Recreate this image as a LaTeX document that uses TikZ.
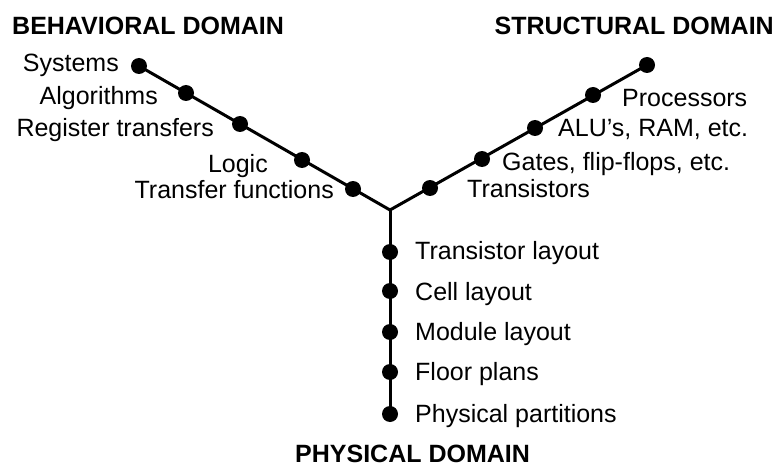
\documentclass[tikz,border=0pt]{standalone}
\usepackage{fontspec}
\setmainfont{Liberation Sans}
\begin{document}
\begin{tikzpicture}[x=1pt,y=-1pt,
  arm/.style={line width=3pt,line cap=round,line join=miter},
  dot/.style={circle,fill=black,inner sep=0pt,minimum size=16pt},
  lbl/.style={inner sep=0pt,font=\fontsize{25}{30}\selectfont},
  ttl/.style={inner sep=0pt,font=\fontsize{25}{30}\selectfont\bfseries}]
\useasboundingbox (0,0) rectangle (779,468);

% centre of the Y chart
\coordinate (c) at (390,210);

% behavioral axis
\node[dot] (b1) at (139,66) {};
\node[dot] (b2) at (186,93) {};
\node[dot] (b3) at (240,124) {};
\node[dot] (b4) at (302,160) {};
\node[dot] (b5) at (353,189) {};

% structural axis
\node[dot] (s1) at (647,65) {};
\node[dot] (s2) at (593,95) {};
\node[dot] (s3) at (535,128) {};
\node[dot] (s4) at (482,159) {};
\node[dot] (s5) at (430,188) {};

% physical axis
\node[dot] (p1) at (390,252) {};
\node[dot] (p2) at (390,291) {};
\node[dot] (p3) at (390,332) {};
\node[dot] (p4) at (390,372) {};
\node[dot] (p5) at (390,414) {};

\draw[arm] (c) -- (b1.center);
\draw[arm] (c) -- (s1.center);
\draw[arm] (c) -- (p5.center);

% domain titles
\node[ttl,anchor=base west] (tb) at (12,35) {BEHAVIORAL DOMAIN};
\node[ttl,anchor=base east] (ts) at (774,35) {STRUCTURAL DOMAIN};
\node[ttl,anchor=base west] (tp) at (295,462) {PHYSICAL DOMAIN};

% behavioral levels
\node[lbl,anchor=base east] (lb1) at (119,72) {Systems};
\node[lbl,anchor=base east] (lb2) at (158,105) {Algorithms};
\node[lbl,anchor=base east] (lb3) at (214,137) {Register transfers};
\node[lbl,anchor=base east] (lb4) at (268,172) {Logic};
\node[lbl,anchor=base east] (lb5) at (334,198) {Transfer functions};

% structural levels
\node[lbl,anchor=base west] (ls2) at (622,107) {Processors};
\node[lbl,anchor=base west] (ls3) at (558,137) {ALU’s, RAM, etc.};
\node[lbl,anchor=base west] (ls4) at (502,170) {Gates, flip-flops, etc.};
\node[lbl,anchor=base west] (ls5) at (467,197) {Transistors};

% physical levels
\node[lbl,anchor=base west] (lp1) at (415,259) {Transistor layout};
\node[lbl,anchor=base west] (lp2) at (415,300) {Cell layout};
\node[lbl,anchor=base west] (lp3) at (415,340) {Module layout};
\node[lbl,anchor=base west] (lp4) at (415,380) {Floor plans};
\node[lbl,anchor=base west] (lp5) at (415,422) {Physical partitions};
\end{tikzpicture}
\end{document}
